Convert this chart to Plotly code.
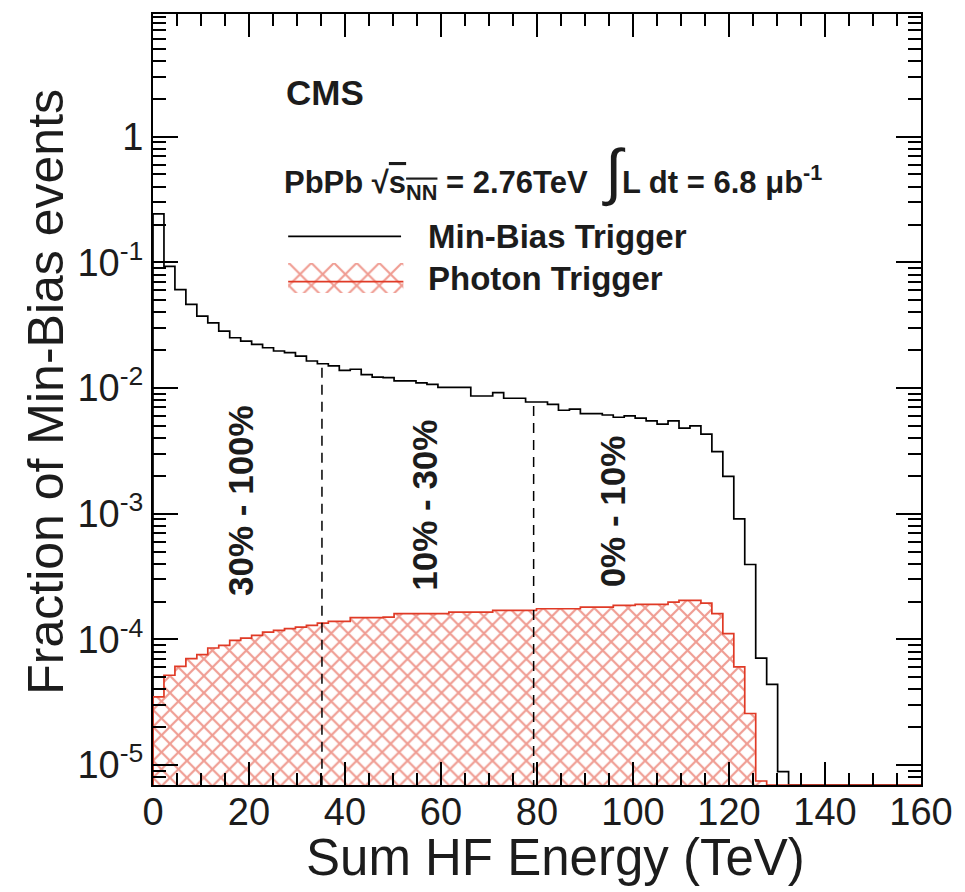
import math
import plotly.graph_objects as go

# ---------------- data ----------------
BIN_WIDTH = 2.283  # TeV per histogram bin
X_MAX = 160.0

# Min-bias trigger: fraction of events per bin (bins start at 0 TeV)
MINBIAS = [0.243, 0.093, 0.0607, 0.0462, 0.0373, 0.0330, 0.0283, 0.0251, 0.0236, 0.0222,
           0.0209, 0.0197, 0.0191, 0.0179, 0.0164, 0.0156, 0.0150, 0.0138, 0.0141, 0.0128,
           0.0122, 0.0121, 0.0114, 0.0114, 0.0110, 0.0107, 0.0101, 0.0101, 0.0101, 0.00864,
           0.00864, 0.00918, 0.00829, 0.00829, 0.00774, 0.00774, 0.00742, 0.00665, 0.00678, 0.00625,
           0.00625, 0.00610, 0.00585, 0.00600, 0.00575, 0.00547, 0.00515, 0.00547, 0.00479, 0.00499,
           0.00429, 0.00312, 0.00198, 0.000908, 0.000394, 7.1e-5, 4.39e-5, 8.85e-6]

# Photon trigger: fraction of min-bias events per bin
PHOTON = [3.48e-5, 5.18e-5, 6.10e-5, 7.03e-5, 7.56e-5, 8.53e-5, 8.96e-5, 9.82e-5, 1.024e-4, 1.076e-4,
          1.143e-4, 1.179e-4, 1.216e-4, 1.252e-4, 1.291e-4, 1.347e-4, 1.390e-4, 1.390e-4, 1.487e-4, 1.487e-4,
          1.487e-4, 1.50e-4, 1.60e-4, 1.60e-4, 1.60e-4, 1.60e-4, 1.60e-4, 1.647e-4, 1.647e-4, 1.647e-4,
          1.647e-4, 1.70e-4, 1.70e-4, 1.70e-4, 1.70e-4, 1.752e-4, 1.752e-4, 1.752e-4, 1.752e-4, 1.804e-4,
          1.804e-4, 1.804e-4, 1.862e-4, 1.862e-4, 1.896e-4, 1.896e-4, 1.896e-4, 1.977e-4, 2.04e-4, 2.04e-4,
          1.94e-4, 1.60e-4, 1.11e-4, 6.03e-5, 2.57e-5, 7.46e-6]

CENTRALITY_CUTS = [35.2, 79.3]  # TeV
REGION_LABELS = ["30% - 100%", "10% - 30%", "0% - 10%"]
REGION_X = [18.2, 56.5, 95.8]
REGION_Y = [1.27e-3, 1.16e-3, 1.04e-3]

X_TICKS = [0, 20, 40, 60, 80, 100, 120, 140, 160]
Y_TICKS = [1e-5, 1e-4, 1e-3, 1e-2, 1e-1, 1]
Y_TICKTEXT = ["10<sup>-5</sup>", "10<sup>-4</sup>", "10<sup>-3</sup>", "10<sup>-2</sup>",
              "10<sup>-1</sup>", "1"]
Y_RANGE = [-5.159, 0.976]

# ---------------- styling ----------------
RED = "#e03a26"
TXT = "#1c1c1c"
FONT = "Liberation Sans"
YFLOOR = 10 ** Y_RANGE[0]

n_total = int(X_MAX / BIN_WIDTH) + 1


def padded(vals):
    return vals + [0.0] * (n_total - len(vals))


def step_xy(vals):
    xs = [0.0]
    ys = [YFLOOR]
    for i, v in enumerate(vals):
        xs.append(min(i * BIN_WIDTH, X_MAX))
        ys.append(max(v, YFLOOR))
    xs.append(X_MAX)
    ys.append(max(vals[-1], YFLOOR))
    return xs, ys


mb = padded(MINBIAS)
ph = padded(PHOTON)

fig = go.Figure()

# hatched photon-trigger fill
centers = [(i + 0.5) * BIN_WIDTH for i in range(len(PHOTON))]
fig.add_trace(go.Bar(
    x=centers, y=PHOTON, width=BIN_WIDTH,
    marker=dict(color="rgba(255,255,255,0)", line=dict(width=0),
                pattern=dict(shape="x", fgcolor=RED, bgcolor="rgba(255,255,255,0)",
                             size=12, solidity=0.33, fillmode="overlay")),
    showlegend=False, hoverinfo="skip"))

# min-bias step line
mx, my = step_xy(mb)
fig.add_trace(go.Scatter(x=mx, y=my, mode="lines", line=dict(color="black", width=1.7, shape="hv"),
                         showlegend=False, hoverinfo="skip"))

# photon step outline
px_, py_ = step_xy(ph)
fig.add_trace(go.Scatter(x=px_, y=py_, mode="lines", line=dict(color=RED, width=1.7, shape="hv"),
                         showlegend=False, hoverinfo="skip"))

# centrality boundaries (dashed)
for cut in CENTRALITY_CUTS:
    top = MINBIAS[int(cut // BIN_WIDTH)]
    fig.add_trace(go.Scatter(x=[cut, cut], y=[top * 0.93, YFLOOR], mode="lines",
                             line=dict(color="black", width=1.5, dash="10px,7px"),
                             showlegend=False, hoverinfo="skip"))

# legend samples on an invisible overlay axis (plot-area fraction coordinates)
fig.add_trace(go.Scatter(x=[0.176, 0.323], y=[0.7115, 0.7115], mode="lines",
                         line=dict(color="black", width=1.7), xaxis="x2", yaxis="y2",
                         showlegend=False, hoverinfo="skip"))
fig.add_trace(go.Scatter(x=[0.176, 0.326, 0.326, 0.176, 0.176], y=[0.638, 0.638, 0.677, 0.677, 0.638],
                         mode="lines", fill="toself", line=dict(width=0, color="rgba(0,0,0,0)"),
                         fillcolor="rgba(255,255,255,0)",
                         fillpattern=dict(shape="x", fgcolor=RED, bgcolor="rgba(255,255,255,0)",
                                          size=16, solidity=0.25, fillmode="overlay"),
                         xaxis="x2", yaxis="y2", showlegend=False, hoverinfo="skip"))
fig.add_trace(go.Scatter(x=[0.176, 0.326], y=[0.653, 0.653], mode="lines",
                         line=dict(color=RED, width=1.7), xaxis="x2", yaxis="y2",
                         showlegend=False, hoverinfo="skip"))

annotations = []
for lab, x, y in zip(REGION_LABELS, REGION_X, REGION_Y):
    annotations.append(dict(x=x, y=math.log10(y), xref="x", yref="y", text=f"<b>{lab}</b>",
                            textangle=-90, showarrow=False, font=dict(family=FONT, size=35, color=TXT)))

annotations += [
    dict(x=0.170, y=0.898, xref="paper", yref="paper", xanchor="left", yanchor="middle",
         text="<b>CMS</b>", showarrow=False, font=dict(family=FONT, size=35, color=TXT)),
    dict(x=0.168, y=0.795, xref="paper", yref="paper", xanchor="left", yanchor="middle",
         text="<b>PbPb √<span style='text-decoration:overline'>s<sub>NN</sub></span> = 2.76TeV  "
              "<span style='font-size:62px;font-weight:normal'>∫</span>L dt = 6.8 μb<sup>-1</sup></b>",
         showarrow=False, font=dict(family=FONT, size=31, color=TXT)),
    dict(x=0.356, y=0.7115, xref="paper", yref="paper", xanchor="left", yanchor="middle",
         text="<b>Min-Bias Trigger</b>", showarrow=False, font=dict(family=FONT, size=33, color=TXT)),
    dict(x=0.356, y=0.657, xref="paper", yref="paper", xanchor="left", yanchor="middle",
         text="<b>Photon Trigger</b>", showarrow=False, font=dict(family=FONT, size=33, color=TXT)),
    dict(x=0.524, y=-0.0944, xref="paper", yref="paper", xanchor="center", yanchor="middle",
         text="Sum HF Energy (TeV)", showarrow=False, font=dict(family=FONT, size=51, color=TXT)),
    dict(x=-0.1397, y=0.5097, xref="paper", yref="paper", xanchor="center", yanchor="middle",
         text="Fraction of Min-Bias events", textangle=-90, showarrow=False,
         font=dict(family=FONT, size=50, color=TXT)),
]

fig.update_layout(
    width=965, height=892,
    margin=dict(l=153, r=39, t=12, b=107),
    paper_bgcolor="white", plot_bgcolor="white",
    barmode="overlay", bargap=0,
    showlegend=False,
    annotations=annotations,
    xaxis=dict(range=[0, X_MAX], tickmode="array", tickvals=X_TICKS, ticks="inside", ticklen=23,
               tickwidth=1.5, tickcolor="black", showline=True, linewidth=2, linecolor="black",
               mirror="ticks", showgrid=False, zeroline=False, ticklabelstandoff=-8,
               tickfont=dict(family=FONT, size=38, color=TXT),
               minor=dict(ticks="inside", ticklen=12, tickwidth=1.5, tickcolor="black",
                          tickmode="linear", tick0=0, dtick=5, showgrid=False)),
    yaxis=dict(type="log", range=Y_RANGE, tickmode="array", tickvals=Y_TICKS, ticktext=Y_TICKTEXT,
               ticks="inside", ticklen=25, tickwidth=1.5, tickcolor="black", showline=True,
               linewidth=2, linecolor="black", mirror="ticks", showgrid=False, zeroline=False,
               tickfont=dict(family=FONT, size=38, color=TXT),
               minor=dict(ticks="inside", ticklen=13, tickwidth=1.5, tickcolor="black",
                          tickmode="linear", dtick="D1", showgrid=False)),
    xaxis2=dict(domain=[0, 1], range=[0, 1], overlaying="x", visible=False, fixedrange=True),
    yaxis2=dict(domain=[0, 1], range=[0, 1], overlaying="y", visible=False, fixedrange=True),
)

fig.write_html("out.html")
